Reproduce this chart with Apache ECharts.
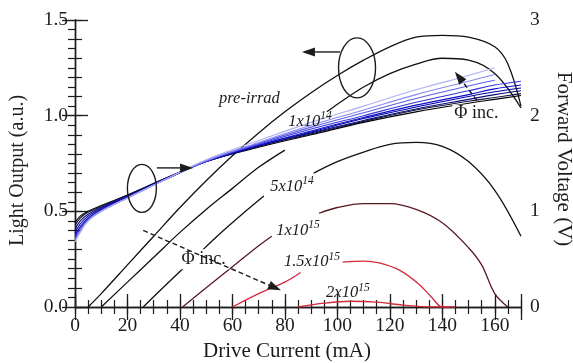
<!DOCTYPE html>
<html>
<head>
<meta charset="utf-8">
<script src="https://cdn.jsdelivr.net/npm/echarts@6/dist/echarts.min.js"></script>
<style>
  html, body { margin: 0; padding: 0; background: #fff; }
  #chart { width: 573px; height: 363px; }
</style>
</head>
<body>
<div id="chart"></div>
<script>
// Drive current sample points (mA) for forward-voltage sweeps
const currentV = [0, 2, 5, 10, 20, 35, 50, 70, 90, 110, 130, 150, 160, 170];
// Forward voltage (V), pre-irradiation first, then increasing fluence
const voltPre = [0.88, 0.95, 1.00, 1.06, 1.17, 1.35, 1.52, 1.67, 1.80, 1.93, 2.04, 2.13, 2.17, 2.21];
const volt1 = [0.85, 0.93, 0.99, 1.05, 1.17, 1.35, 1.52, 1.68, 1.81, 1.94, 2.06, 2.15, 2.19, 2.23];
const volt2 = [0.81, 0.90, 0.97, 1.04, 1.16, 1.35, 1.52, 1.68, 1.82, 1.95, 2.07, 2.17, 2.22, 2.26];
const volt3 = [0.77, 0.87, 0.95, 1.03, 1.15, 1.34, 1.52, 1.69, 1.83, 1.97, 2.09, 2.20, 2.25, 2.29];
const volt4 = [0.74, 0.84, 0.93, 1.02, 1.15, 1.34, 1.52, 1.69, 1.84, 1.98, 2.11, 2.22, 2.28, 2.32];
const volt5 = [0.72, 0.82, 0.92, 1.01, 1.14, 1.34, 1.52, 1.70, 1.86, 2.00, 2.14, 2.26, 2.32, 2.36];
const volt6 = [0.70, 0.80, 0.91, 1.00, 1.14, 1.34, 1.53, 1.71, 1.88, 2.03, 2.18, 2.31, 2.37];
const volt7 = [0.69, 0.79, 0.90, 1.00, 1.14, 1.34, 1.53, 1.72, 1.90, 2.06, 2.22, 2.36, 2.43];
const volt8 = [0.68, 0.78, 0.90, 1.00, 1.14, 1.34, 1.54, 1.74, 1.93, 2.10, 2.27, 2.42, 2.50];
const voltSets = [voltPre, volt1, volt2, volt3, volt4, volt5, volt6, volt7, volt8];
const voltColors = ['#000000', '#14143c', '#0a0a78', '#0000a8', '#0c0cc8', '#3434dc', '#5c5ce6', '#8888ee', '#b0b0f4'];

// Light output (a.u.) vs drive current (mA); null breaks the line where a label sits
const lightPreI = [5, 10, 20, 30, 40, 50, 60, 70, 80, 90, 100, 110, 120, 130, 140, 150, 160, 165, 170];
const lightPre = [0, 0.07, 0.22, 0.37, 0.52, 0.66, 0.79, 0.91, 1.02, 1.12, 1.21, 1.29, 1.36, 1.41, 1.42, 1.41, 1.36, 1.27, 1.05];
const light1e14I = [10, 20, 30, 40, 50, 60, 70, 80, 85, 96, 100, 110, 120, 130, 140, 150, 160, 170];
const light1e14 = [0, 0.13, 0.26, 0.39, 0.51, 0.62, 0.73, 0.82, null, 1.02, 1.06, 1.15, 1.22, 1.27, 1.30, 1.29, 1.22, 1.04];
const light5e14I = [26, 35, 45, 55, 65, 72, 80, 91, 100, 110, 120, 130, 140, 150, 160, 170];
const light5e14 = [0, 0.12, 0.25, 0.38, 0.50, 0.58, null, 0.70, 0.76, 0.81, 0.85, 0.86, 0.84, 0.76, 0.61, 0.37];
const light1e15I = [41, 50, 60, 70, 75, 85, 93, 100, 110, 120, 130, 140, 150, 155, 160, 165];
const light1e15 = [0, 0.10, 0.21, 0.32, 0.37, null, 0.49, 0.52, 0.54, 0.54, 0.51, 0.44, 0.31, 0.22, 0.07, 0];
const light15e15I = [60, 70, 80, 86, 95, 102, 110, 116, 124, 131, 136, 140, 145];
const light15e15 = [0, 0.07, 0.13, 0.18, null, 0.235, 0.24, 0.23, 0.19, 0.12, 0.05, 0, 0];
const light2e15I = [85, 95, 105, 115, 125, 135, 142];
const light2e15 = [0, 0.02, 0.03, 0.025, 0.01, 0, 0];

// Axis tick labels
const xTicks = [0, 20, 40, 60, 80, 100, 120, 140, 160];
const yLeftTicks = ['0.0', '0.5', '1.0', '1.5'];
const yRightTicks = ['0', '1', '2', '3'];

const FONT = 'Liberation Serif';
const INK = '#1c1c1c';
const chart = echarts.init(document.getElementById('chart'));

function pairs(xs, ys) {
  const out = [];
  for (let i = 0; i < ys.length; i++) out.push([xs[i], ys[i]]);
  return out;
}

const series = [];
// forward-voltage bundle (right axis)
voltSets.forEach((v, k) => {
  series.push({
    type: 'line', xAxisIndex: 0, yAxisIndex: 1, smooth: 0.4, symbol: 'none',
    data: pairs(currentV, v),
    lineStyle: { color: voltColors[k], width: 1.1 },
    z: 3 + k
  });
});
// light-output curves (left axis)
const lightSets = [
  [lightPreI, lightPre, '#111111'],
  [light1e14I, light1e14, '#111111'],
  [light5e14I, light5e14, '#111111'],
  [light1e15I, light1e15, '#5a1822'],
  [light15e15I, light15e15, '#d42a3c'],
  [light2e15I, light2e15, '#d42a3c']
];
lightSets.forEach(([xs, ys, c]) => {
  series.push({
    type: 'line', xAxisIndex: 0, yAxisIndex: 0, smooth: 0.35, symbol: 'none',
    connectNulls: false,
    data: pairs(xs, ys),
    lineStyle: { color: c, width: 1.3 },
    z: 2
  });
});

const axisText = { fontFamily: FONT, fontSize: 19.5, color: INK };
const nameText = { fontFamily: FONT, fontSize: 21, color: INK };
const lineStyle = { color: INK, width: 1.4 };

// major axes carry labels; companion axes draw the inward minor ticks
function majorTick() { return { show: true, inside: true, length: 13, lineStyle: { color: INK, width: 1.3 } }; }
function minorAxisCommon() {
  return {
    axisLine: { show: false },
    axisTick: { show: true, inside: true, length: 7, lineStyle: { color: INK, width: 1.2 } },
    axisLabel: { show: false }, splitLine: { show: false }
  };
}

chart.setOption({
  animation: false,
  backgroundColor: '#fff',
  grid: { left: 75, right: 52, top: 20, bottom: 56, containLabel: false, outerBoundsMode: 'none' },
  xAxis: [{
    type: 'value', min: 0, max: 170, interval: 20, position: 'bottom', offset: 0,
    axisLine: { lineStyle },
    axisTick: majorTick(),
    axisLabel: { ...axisText, margin: 9, formatter: v => (xTicks.indexOf(v) >= 0 ? String(v) : '') },
    splitLine: { show: false },
    name: 'Drive Current (mA)', nameLocation: 'middle', nameGap: 33,
    nameTextStyle: { ...nameText, padding: [0, 22, 0, 0] }
  }, {
    type: 'value', min: 0, max: 170, interval: 20, position: 'top', offset: 0,
    axisLine: { lineStyle },
    axisTick: majorTick(),
    axisLabel: { show: false }, splitLine: { show: false }
  }, {
    type: 'value', min: 0, max: 170, interval: 5, position: 'bottom', offset: 0, ...minorAxisCommon()
  }, {
    type: 'value', min: 0, max: 170, interval: 5, position: 'top', offset: 0, ...minorAxisCommon()
  }],
  yAxis: [{
    type: 'value', min: 0, max: 1.5, interval: 0.5, position: 'left', offset: 0,
    axisLine: { show: true, lineStyle },
    axisTick: majorTick(),
    axisLabel: { ...axisText, margin: 7, formatter: v => yLeftTicks[Math.round(v / 0.5)] },
    splitLine: { show: false },
    name: 'Light Output (a.u.)', nameLocation: 'middle', nameGap: 47, nameRotate: 90,
    nameTextStyle: { ...nameText, fontSize: 20, padding: [0, 14, 0, 0] }
  }, {
    type: 'value', min: 0, max: 3, interval: 1, position: 'right', offset: 0,
    axisLine: { show: true, lineStyle },
    axisTick: majorTick(),
    axisLabel: { ...axisText, margin: 9, formatter: v => yRightTicks[Math.round(v)] },
    splitLine: { show: false },
    name: 'Forward Voltage (V)', nameLocation: 'middle', nameGap: 32, nameRotate: -90,
    nameTextStyle: { ...nameText, padding: [0, 9, 0, 0] }
  }, {
    type: 'value', min: 0, max: 1.5, interval: 0.1, position: 'left', offset: 0, ...minorAxisCommon()
  }, {
    type: 'value', min: 0, max: 3, interval: 0.1, position: 'right', offset: 0, ...minorAxisCommon()
  }],
  series
});

// Annotations placed in data coordinates of the left axis
function px(I, L) { return chart.convertToPixel({ xAxisIndex: 0, yAxisIndex: 0 }, [I, L]); }
const labelStyle = { fontFamily: FONT, fontStyle: 'italic', fill: INK };
function fluenceLabel(I, L, base, exp) {
  const p = px(I, L);
  return {
    type: 'text', x: p[0], y: p[1], z: 50,
    style: {
      text: exp ? '{b|' + base + '}{s|' + exp + '}' : '{b|' + base + '}',
      rich: {
        b: { ...labelStyle, fontSize: 16.5 },
        s: { ...labelStyle, fontSize: 11.5, padding: [0, 0, 10, 0] }
      },
      align: 'center', verticalAlign: 'middle'
    }
  };
}
function arrow(a, b, dashed) {
  const p1 = px(a[0], a[1]), p2 = px(b[0], b[1]);
  const ang = Math.atan2(p2[1] - p1[1], p2[0] - p1[0]);
  const hl = 13, hw = 4.5;
  const bx = p2[0] - hl * Math.cos(ang), by = p2[1] - hl * Math.sin(ang);
  const nx = -Math.sin(ang) * hw, ny = Math.cos(ang) * hw;
  return [
    { type: 'line', z: 50, shape: { x1: p1[0], y1: p1[1], x2: bx, y2: by },
      style: { stroke: INK, lineWidth: 1.4, lineDash: dashed ? [5, 3] : null } },
    { type: 'polygon', z: 50, shape: { points: [[p2[0], p2[1]], [bx + nx, by + ny], [bx - nx, by - ny]] },
      style: { fill: INK } }
  ];
}
function ellipse(I, L, rx, ry) {
  const p = px(I, L);
  return { type: 'ellipse', z: 50, shape: { cx: p[0], cy: p[1], rx: rx, ry: ry },
    style: { fill: 'none', stroke: INK, lineWidth: 1.4 } };
}
const phiStyle = { fontFamily: FONT, fontSize: 18, fill: INK };
const phiLow = px(49, 0.25);
const phiHigh = px(153, 1.01);

chart.setOption({
  graphic: [
    fluenceLabel(66.5, 1.09, 'pre-irrad'),
    fluenceLabel(89.6, 0.97, '1x10', '14'),
    fluenceLabel(82.7, 0.63, '5x10', '14'),
    fluenceLabel(85, 0.40, '1x10', '15'),
    fluenceLabel(90.3, 0.235, '1.5x10', '15'),
    fluenceLabel(104, 0.073, '2x10', '15'),
    ellipse(25.5, 0.62, 14.5, 24),
    ellipse(107.5, 1.25, 18.5, 30),
    ...arrow([31.2, 0.727], [45, 0.727], false),
    ...arrow([101, 1.333], [86.5, 1.333], false),
    ...arrow([26, 0.40], [78.5, 0.087], true),
    ...arrow([153.2, 1.08], [144.8, 1.23], true),
    { type: 'rect', z: 49, shape: { x: phiLow[0] - 26, y: phiLow[1] - 10, width: 52, height: 20 },
      style: { fill: '#fff' } },
    { type: 'text', z: 51, x: phiLow[0], y: phiLow[1],
      style: { ...phiStyle, text: 'Φ inc.', align: 'center', verticalAlign: 'middle' } },
    { type: 'rect', z: 49, shape: { x: phiHigh[0] - 24, y: phiHigh[1] - 9, width: 48, height: 18 },
      style: { fill: '#fff' } },
    { type: 'text', z: 51, x: phiHigh[0], y: phiHigh[1],
      style: { ...phiStyle, text: 'Φ inc.', align: 'center', verticalAlign: 'middle' } }
  ]
});
</script>
</body>
</html>
